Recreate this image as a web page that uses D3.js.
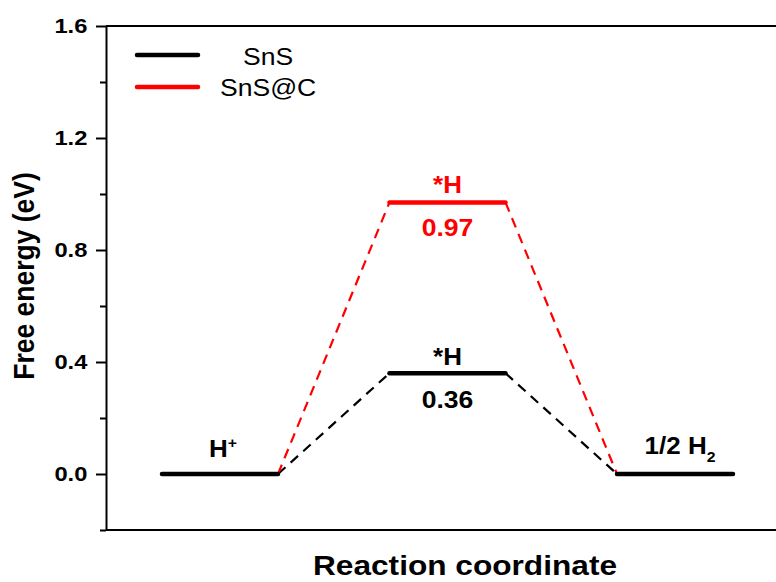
<!DOCTYPE html>
<html>
<head>
<meta charset="utf-8">
<script src="https://cdn.jsdelivr.net/npm/d3@7/dist/d3.min.js"></script>
<style>
  html, body { margin: 0; padding: 0; background: #fff; }
  svg { display: block; }
  text { font-family: "Liberation Sans", Arial, sans-serif; }
</style>
</head>
<body>
<svg id="chart" width="776" height="582"></svg>
<script>
// Reaction steps along the coordinate and the free energy (eV) at each step
const steps = ["H+", "*H", "1/2 H2"];
const snsEnergy = [0, 0.36, 0];
const snsCEnergy = [0, 0.97, 0];
const seriesNames = ["SnS", "SnS@C"];
const seriesColors = ["#000000", "#ff0000"];
const majorTicks = [0.0, 0.4, 0.8, 1.2, 1.6];
const minorTicks = [-0.2, 0.2, 0.6, 1.0, 1.4];

const svg = d3.select("#chart");
const plotLeft = 106, plotRight = 776, plotTop = 26, plotBottom = 530;
const SX = 1.13; // horizontal text stretch

const x = d3.scaleLinear().domain([0, 2]).range([220, 675]);
const y = d3.scaleLinear().domain([-0.2, 1.6]).range([plotBottom, plotTop]);
const halfW = 0.255; // half width of each level, in step units

// frame: top and bottom edges
svg.append("line").attr("x1", plotLeft).attr("x2", plotRight).attr("y1", plotTop).attr("y2", plotTop)
  .attr("stroke", "#000").attr("stroke-width", 2);
svg.append("line").attr("x1", plotLeft).attr("x2", plotRight).attr("y1", plotBottom).attr("y2", plotBottom)
  .attr("stroke", "#000").attr("stroke-width", 2);

// y axis: minor ticks
const minorAxis = d3.axisLeft(y).tickValues(minorTicks).tickSize(6).tickSizeOuter(0).tickFormat("");
const gMinor = svg.append("g").attr("transform", `translate(${plotLeft},0)`).call(minorAxis);
gMinor.select(".domain").remove();
gMinor.selectAll("line").attr("stroke-width", 2);

// y axis: major ticks and labels
const majorAxis = d3.axisLeft(y).tickValues(majorTicks).tickSize(10).tickSizeOuter(0)
  .tickPadding(6.5).tickFormat(d3.format(".1f"));
const gMajor = svg.append("g").attr("transform", `translate(${plotLeft},0)`).call(majorAxis);
gMajor.select(".domain").attr("stroke-width", 2);
gMajor.selectAll("line").attr("stroke-width", 2);
gMajor.selectAll("text")
  .attr("font-family", "'Liberation Sans', Arial, sans-serif")
  .attr("font-size", 21).attr("font-weight", "bold").attr("fill", "#000")
  .attr("transform", `scale(${SX},1)`);

// axis titles
svg.append("text")
  .attr("transform", `translate(465,575) scale(${SX},1)`)
  .attr("text-anchor", "middle").attr("font-size", 28).attr("font-weight", "bold")
  .text("Reaction coordinate");
svg.append("text")
  .attr("transform", `translate(34,276) scale(${SX},1) rotate(-90)`)
  .attr("text-anchor", "middle").attr("font-size", 26.5).attr("font-weight", "bold")
  .text("Free energy (eV)");

// dashed connectors between adjacent levels
const series = [snsEnergy, snsCEnergy];
series.forEach((vals, si) => {
  for (let i = 0; i < vals.length - 1; i++) {
    svg.append("line")
      .attr("x1", x(i + halfW)).attr("y1", y(vals[i]))
      .attr("x2", x(i + 1 - halfW)).attr("y2", y(vals[i + 1]))
      .attr("stroke", seriesColors[si]).attr("stroke-width", 2.2)
      .attr("stroke-dasharray", "10,7");
  }
});

// energy levels (SnS@C drawn first so the shared zero levels stay black)
[1, 0].forEach(si => {
  const vals = series[si];
  vals.forEach((v, i) => {
    if (si === 1 && v === snsEnergy[i]) return;
    svg.append("line")
      .attr("x1", x(i - halfW)).attr("x2", x(i + halfW))
      .attr("y1", y(v)).attr("y2", y(v))
      .attr("stroke", seriesColors[si]).attr("stroke-width", 4.5)
      .attr("stroke-linecap", "round");
  });
});

// level labels
function label(txt, cx, cy, color, size) {
  return svg.append("text")
    .attr("transform", `translate(${cx},${cy}) scale(${SX},1)`)
    .attr("text-anchor", "middle").attr("font-size", size).attr("font-weight", "bold")
    .attr("fill", color).text(txt);
}
// H+ at step 0
const hp = svg.append("text")
  .attr("transform", `translate(${x(0) + 3},${y(0) - 17}) scale(${SX},1)`)
  .attr("text-anchor", "middle").attr("font-size", 23).attr("font-weight", "bold");
hp.append("tspan").text("H");
hp.append("tspan").attr("dy", -9).attr("font-size", 14).text("+");

// intermediate *H for each series
label("*H", x(1), y(snsCEnergy[1]) - 9, seriesColors[1], 23);
label(d3.format(".2f")(snsCEnergy[1]), x(1), y(snsCEnergy[1]) + 34, seriesColors[1], 23.5);
label("*H", x(1), y(snsEnergy[1]) - 8, seriesColors[0], 23);
label(d3.format(".2f")(snsEnergy[1]), x(1), y(snsEnergy[1]) + 35, seriesColors[0], 23.5);

// 1/2 H2 at step 2
const h2 = svg.append("text")
  .attr("transform", `translate(${x(2) + 5},${y(0) - 20}) scale(${SX},1)`)
  .attr("text-anchor", "middle").attr("font-size", 23).attr("font-weight", "bold");
h2.append("tspan").text("1/2 H");
h2.append("tspan").attr("dy", 8).attr("font-size", 14).text("2");

// legend
const legendRows = [{ y: 55, tx: 243, ty: 65 }, { y: 87, tx: 220, ty: 96 }];
legendRows.forEach((r, i) => {
  svg.append("line").attr("x1", 137).attr("x2", 198).attr("y1", r.y).attr("y2", r.y)
    .attr("stroke", seriesColors[i]).attr("stroke-width", 4.5).attr("stroke-linecap", "round");
  svg.append("text")
    .attr("transform", `translate(${r.tx},${r.ty}) scale(${SX},1)`)
    .attr("font-size", 23.5).attr("fill", "#000").text(seriesNames[i]);
});
</script>
</body>
</html>
